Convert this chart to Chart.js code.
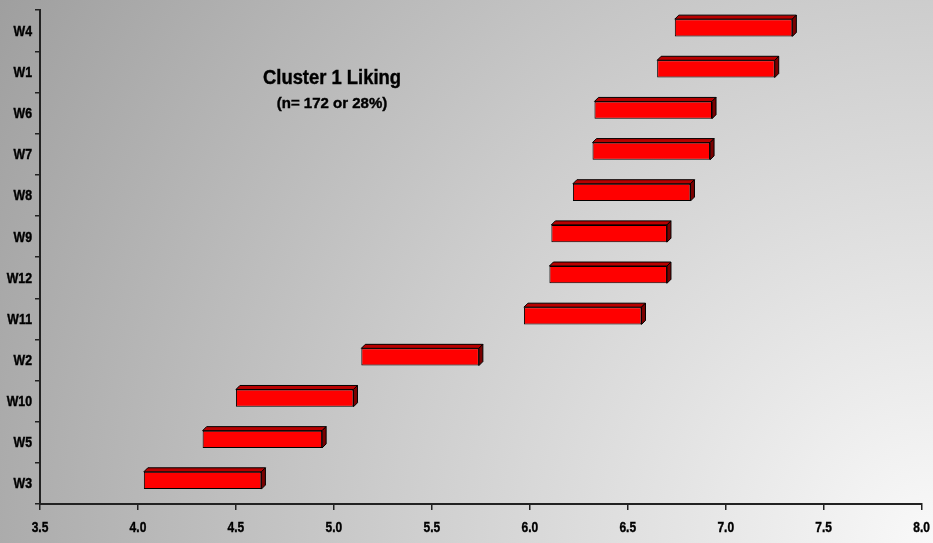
<!DOCTYPE html>
<html>
<head>
<meta charset="utf-8">
<title>Cluster 1 Liking</title>
<script src="https://cdn.jsdelivr.net/npm/chart.js@4"></script>
<style>
  html, body { margin: 0; padding: 0; background: #fff; }
  #wrap { width: 933px; height: 543px; position: relative; }
</style>
</head>
<body>
<div id="wrap"><canvas id="chart" width="933" height="543"></canvas></div>
<script>
// Products, listed top to bottom
const categories = ['W4', 'W1', 'W6', 'W7', 'W8', 'W9', 'W12', 'W11', 'W2', 'W10', 'W5', 'W3'];
// Lower and upper end of each liking interval
const lowValues  = [6.74, 6.65, 6.33, 6.32, 6.22, 6.11, 6.10, 5.97, 5.14, 4.50, 4.33, 4.03];
const highValues = [7.34, 7.25, 6.93, 6.92, 6.82, 6.70, 6.70, 6.57, 5.74, 5.10, 4.94, 4.63];
// Value axis range
const axisMin = 3.5;
const axisMax = 8.0;
const axisStep = 0.5;
const titleText = 'Cluster 1 Liking';
const subtitleText = '(n= 172 or 28%)';

const FONT = '"Liberation Sans", Arial, Helvetica, sans-serif';

// Draw text squeezed horizontally (a condensed look from a regular face)
function squeezed(ctx, text, x, y, align, sx, font) {
  ctx.save();
  ctx.font = font;
  ctx.textBaseline = 'alphabetic';
  ctx.textAlign = align;
  ctx.translate(x, y);
  ctx.scale(sx, 1);
  ctx.fillText(text, 0, 0);
  ctx.lineWidth = 0.4;
  ctx.strokeStyle = ctx.fillStyle;
  ctx.strokeText(text, 0, 0);
  ctx.restore();
}

// Grey-to-white backdrop behind everything
const backdrop = {
  id: 'backdrop',
  beforeDraw(chart) {
    const { ctx, width, height } = chart;
    const g = ctx.createRadialGradient(width, height, 0, width, height, Math.hypot(width, height));
    g.addColorStop(0, '#f9f9f9');
    g.addColorStop(0.5, '#cdcdcd');
    g.addColorStop(1, '#9f9f9f');
    ctx.save();
    ctx.fillStyle = g;
    ctx.fillRect(0, 0, width, height);
    ctx.restore();
  }
};

// Gives each bar a top face and a right face so it reads as a block
const DEPTH = 4;
const LIFT = 3;
const blocks = {
  id: 'blocks',
  beforeDatasetsDraw(chart) {
    chart.ctx.save();
    chart.ctx.translate(0, -LIFT);
  },
  afterDatasetsDraw(chart) {
    const ctx = chart.ctx;
    const meta = chart.getDatasetMeta(0);
    ctx.lineWidth = 1;
    ctx.strokeStyle = '#000';
    ctx.lineJoin = 'miter';
    meta.data.forEach(bar => {
      const { x, y, base, height } = bar.getProps(['x', 'y', 'base', 'height'], true);
      const left = Math.min(x, base), right = Math.max(x, base);
      const top = y - height / 2, bottom = y + height / 2;
      // top face
      ctx.beginPath();
      ctx.moveTo(left, top);
      ctx.lineTo(left + DEPTH, top - DEPTH);
      ctx.lineTo(right + DEPTH, top - DEPTH);
      ctx.lineTo(right, top);
      ctx.closePath();
      ctx.fillStyle = '#b80000';
      ctx.fill();
      ctx.stroke();
      // side face
      ctx.beginPath();
      ctx.moveTo(right, top);
      ctx.lineTo(right + DEPTH, top - DEPTH);
      ctx.lineTo(right + DEPTH, bottom - DEPTH);
      ctx.lineTo(right, bottom);
      ctx.closePath();
      ctx.fillStyle = '#7a0000';
      ctx.fill();
      ctx.stroke();
    });
    ctx.restore();
  }
};

// Axis labels (condensed bold) and the heading inside the plot area
const labels = {
  id: 'labels',
  afterDraw(chart) {
    const ctx = chart.ctx;
    ctx.save();
    ctx.fillStyle = '#000';
    const xs = chart.scales.x;
    xs.ticks.forEach((t, i) => {
      squeezed(ctx, t.label, xs.getPixelForTick(i), 532, 'center', 0.8, 'bold 15px ' + FONT);
    });
    const ys = chart.scales.y;
    ys.ticks.forEach((t, i) => {
      squeezed(ctx, ys.getLabelForValue(t.value), 32, ys.getPixelForTick(i) + 5, 'right', 0.88, 'bold 14px ' + FONT);
    });
    squeezed(ctx, titleText, 332, 84, 'center', 0.92, 'bold 20px ' + FONT);
    squeezed(ctx, subtitleText, 332, 108, 'center', 1.0, 'bold 15px ' + FONT);
    ctx.restore();
  }
};

new Chart(document.getElementById('chart'), {
  type: 'bar',
  data: {
    labels: categories,
    datasets: [{
      data: categories.map((c, i) => [lowValues[i], highValues[i]]),
      backgroundColor: '#ff0000',
      borderColor: '#000000',
      borderWidth: 1,
      borderSkipped: false,
      categoryPercentage: 1,
      barPercentage: 0.42
    }]
  },
  options: {
    indexAxis: 'y',
    responsive: false,
    animation: false,
    layout: { padding: { top: 8, right: 11, left: 0, bottom: 0 } },
    plugins: {
      legend: { display: false },
      tooltip: { enabled: false },
      title: { display: false }
    },
    scales: {
      x: {
        type: 'linear',
        min: axisMin,
        max: axisMax,
        afterFit(scale) { scale.height = 39; },
        afterBuildTicks(scale) {
          const t = [];
          for (let v = axisMin; v <= axisMax + 1e-9; v += axisStep) t.push({ value: Math.round(v * 10) / 10 });
          scale.ticks = t;
        },
        ticks: {
          color: 'rgba(0,0,0,0)',
          font: { family: FONT, size: 12, weight: 'bold' },
          maxRotation: 0,
          autoSkip: false,
          callback: v => Number(v).toFixed(1)
        },
        grid: { drawOnChartArea: false, drawTicks: true, tickLength: 6, color: '#222', lineWidth: 1.5 },
        border: { display: true, color: '#222', width: 2 }
      },
      y: {
        type: 'category',
        afterFit(scale) { scale.width = 40; },
        ticks: {
          color: 'rgba(0,0,0,0)',
          font: { family: FONT, size: 12, weight: 'bold' }
        },
        grid: { drawOnChartArea: false, drawTicks: true, tickLength: 5, color: '#222', lineWidth: 1.5, offset: true },
        border: { display: true, color: '#222', width: 2 }
      }
    }
  },
  plugins: [backdrop, blocks, labels]
});
</script>
</body>
</html>
